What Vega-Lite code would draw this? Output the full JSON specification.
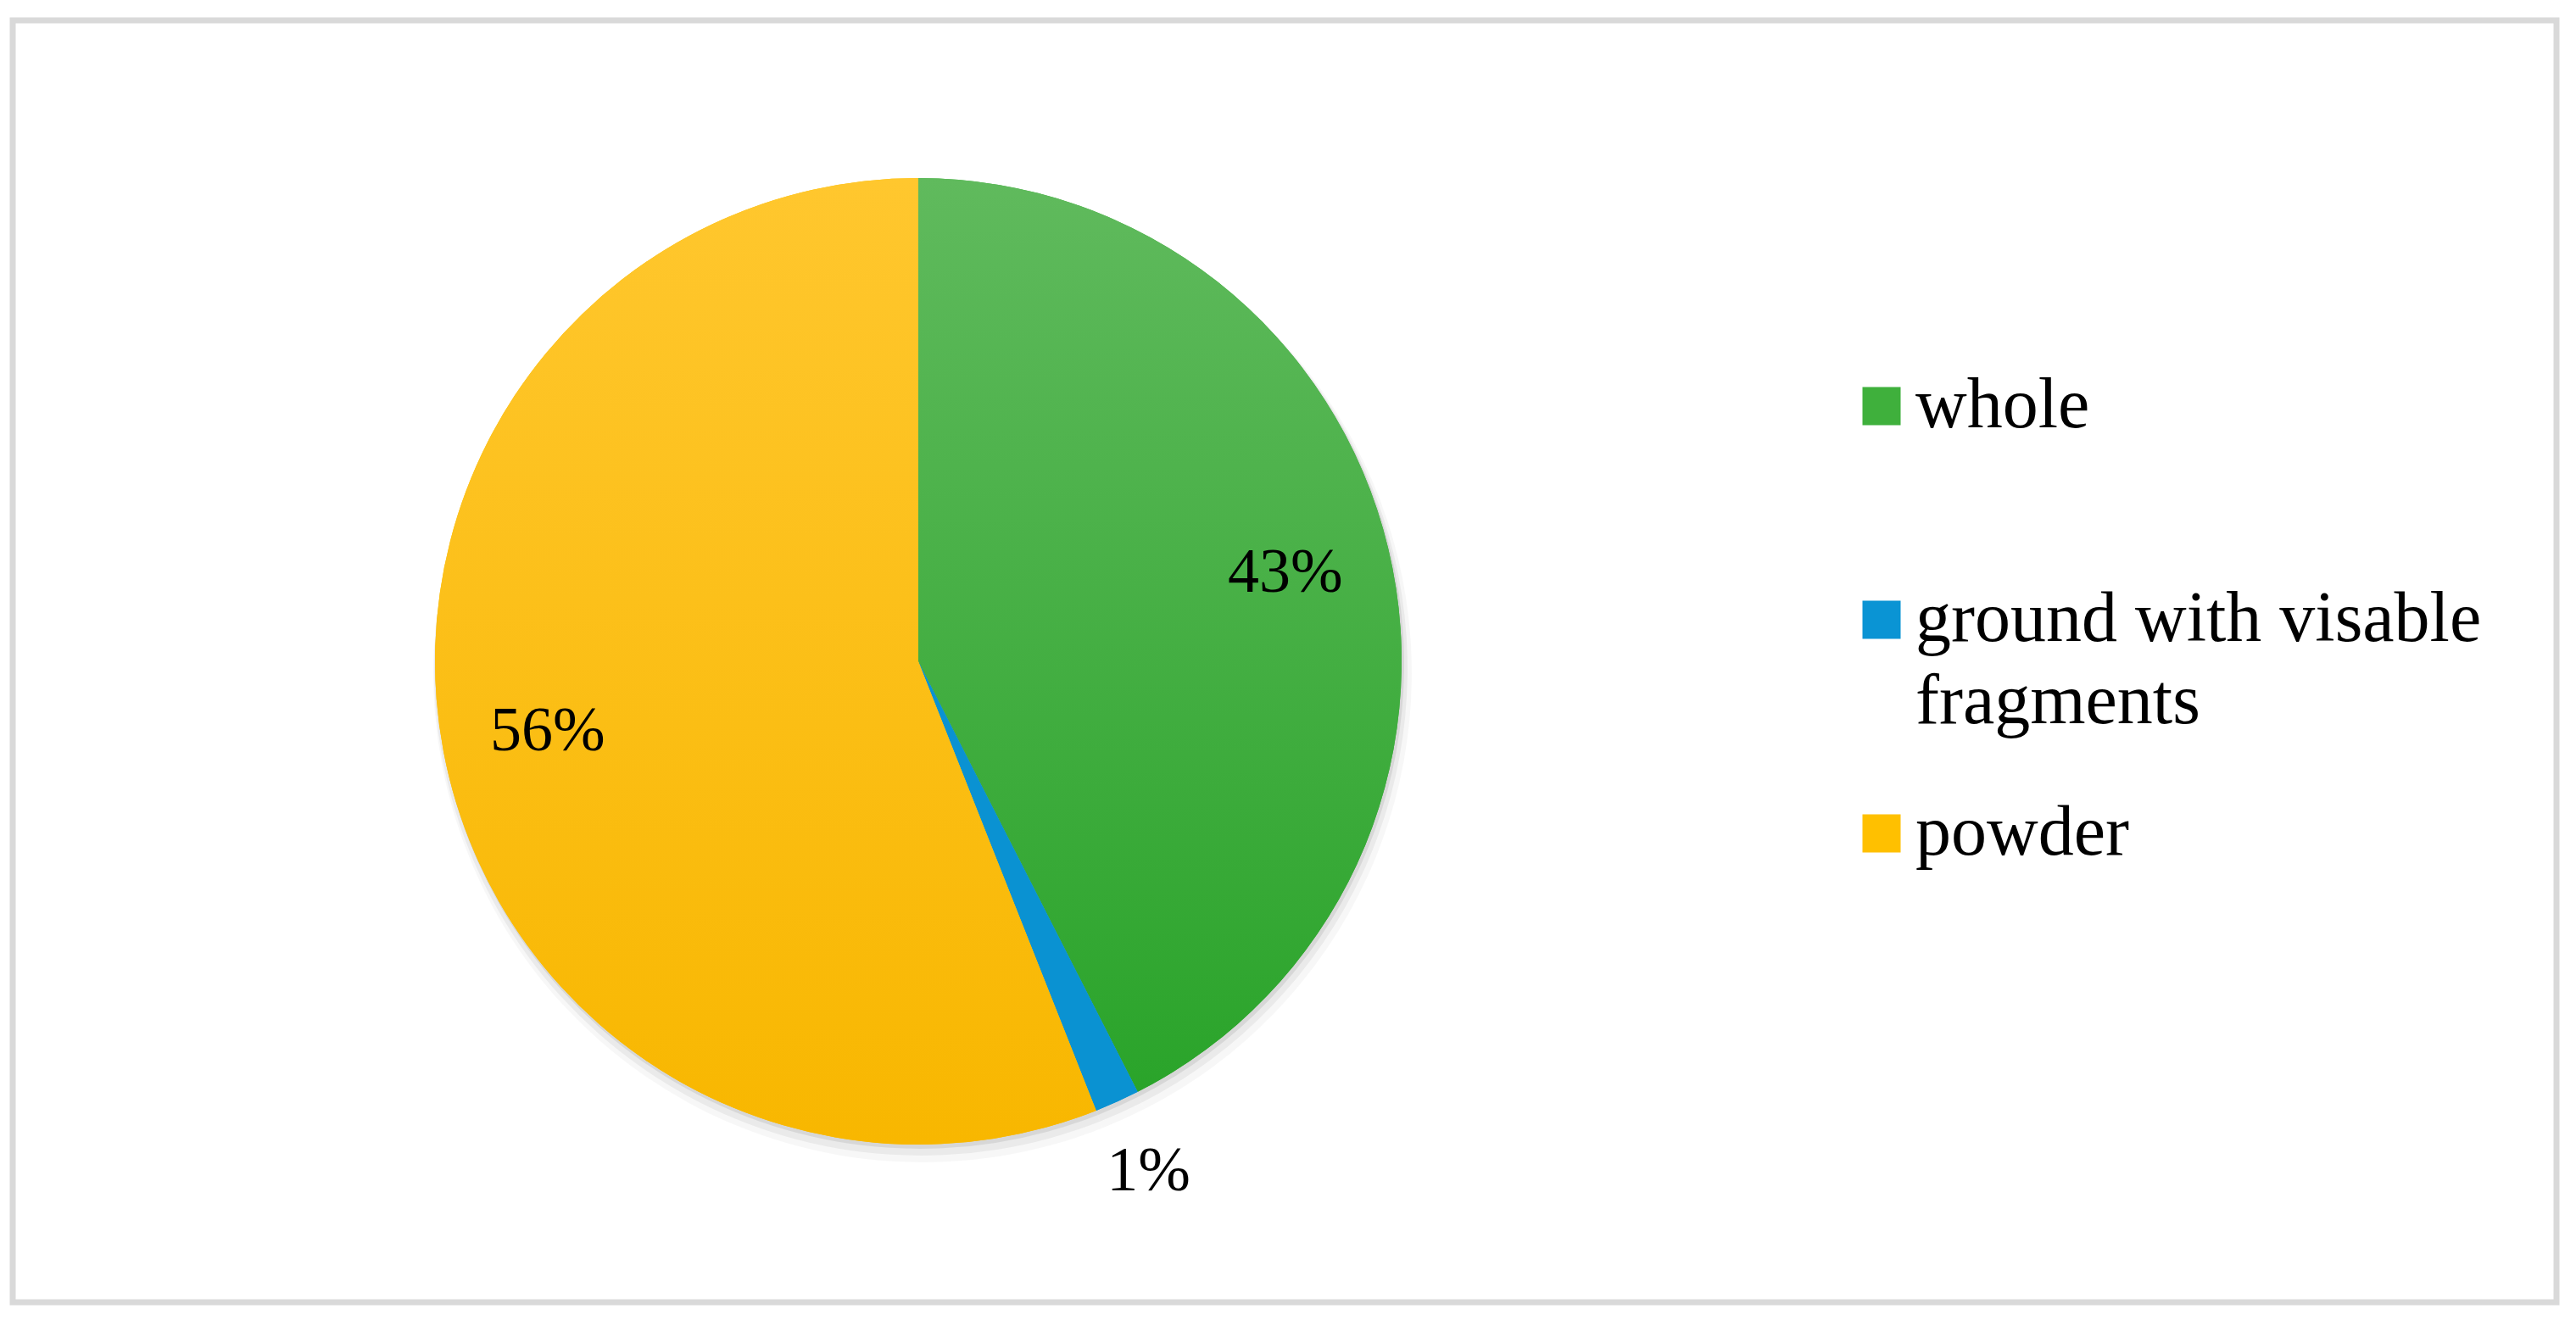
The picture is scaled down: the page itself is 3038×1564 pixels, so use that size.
{
  "$schema": "https://vega.github.io/schema/vega-lite/v6.json",
  "width": 3000,
  "height": 1512,
  "autosize": {"type": "none"},
  "padding": {"left": 15, "top": 24, "right": 23, "bottom": 28},
  "background": "white",
  "config": {
    "view": {"stroke": "#d9d9d9", "strokeWidth": 7},
    "style": {"guide-label": {"lineHeight": 97}}
  },
  "data": {
    "values": [
      {"category": "whole", "value": 42.5, "label": "43%", "idx": 1},
      {"category": "ground with visable fragments", "value": 1.5, "label": "1%", "idx": 2},
      {"category": "powder", "value": 56, "label": "56%", "idx": 3}
    ]
  },
  "encoding": {
    "theta": {"field": "value", "type": "quantitative", "stack": true},
    "order": {"field": "idx", "type": "quantitative"},
    "x": {"datum": 0.356, "type": "quantitative", "scale": {"domain": [0, 1], "nice": false, "zero": false}, "axis": null}
  },
  "layer": [
    {
      "mark": {"type": "arc", "radius": 577, "fill": "#000", "opacity": 0.03, "xOffset": 5, "yOffset": 14}
    },
    {
      "mark": {"type": "arc", "radius": 574, "fill": "#000", "opacity": 0.05, "xOffset": 3, "yOffset": 9}
    },
    {
      "mark": {"type": "arc", "radius": 571, "fill": "#000", "opacity": 0.08, "xOffset": 2, "yOffset": 4}
    },
    {
      "mark": {"type": "arc", "radius": 570, "strokeWidth": 0},
      "encoding": {
        "color": {
          "field": "category",
          "type": "nominal",
          "sort": ["whole", "ground with visable fragments", "powder"],
          "scale": {"domain": ["whole", "ground with visable fragments", "powder"], "range": ["#3fb03c", "#0a94d4", "#ffc000"]},
          "legend": {
            "orient": "none",
            "legendX": 2162,
            "legendY": 413,
            "title": null,
            "padding": 0,
            "gridAlign": "all",
            "labelFont": "Liberation Serif",
            "labelFontSize": 84,
            "labelColor": "black",
            "labelOffset": -2,
            "labelLimit": 2000,
            "symbolType": "square",
            "symbolSize": 2025,
            "symbolStrokeWidth": 0,
            "symbolOpacity": 1,
            "rowPadding": 71,
            "labelExpr": "datum.label == 'ground with visable fragments' ? ['ground with visable', 'fragments'] : datum.label"
          }
        }
      }
    },
    {
      "mark": {"type": "arc", "radius": 570, "strokeWidth": 0},
      "encoding": {
        "fill": {
          "condition": [
            {"test": "datum.category == 'whole'", "value": {"gradient": "linear", "x1": 0, "y1": 0, "x2": 0, "y2": 1, "stops": [{"offset": 0, "color": "#60ba5d"}, {"offset": 1, "color": "#2aa42a"}]}},
            {"test": "datum.category == 'powder'", "value": {"gradient": "linear", "x1": 0, "y1": 0, "x2": 0, "y2": 1, "stops": [{"offset": 0, "color": "#ffc72e"}, {"offset": 1, "color": "#f8b700"}]}}
          ],
          "value": "#0a92d2"
        }
      }
    },
    {
      "mark": {"type": "text", "font": "Liberation Serif", "fontSize": 74, "fill": "black", "radius": {"expr": "datum.value < 5 ? 660 : 445"}},
      "encoding": {
        "text": {"field": "label", "type": "nominal"},
        "detail": {"field": "category", "type": "nominal"}
      }
    }
  ]
}
